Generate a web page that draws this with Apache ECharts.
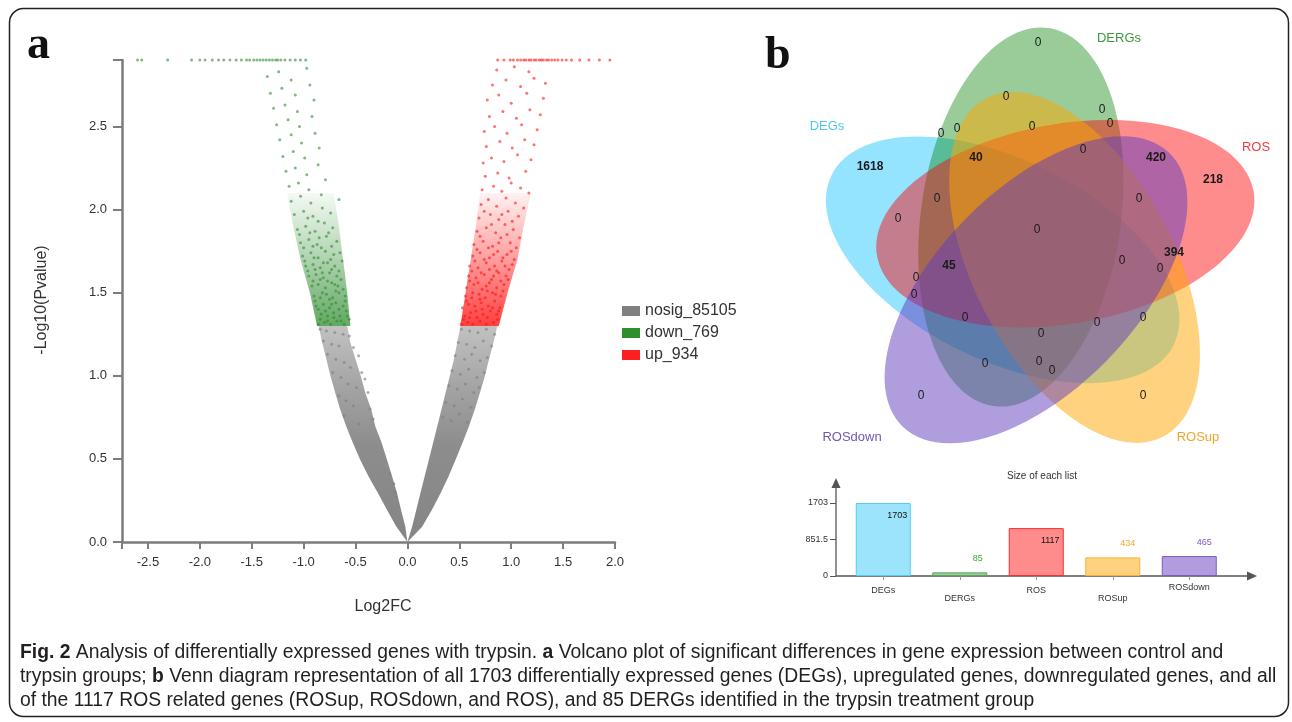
<!DOCTYPE html>
<html><head><meta charset="utf-8">
<script src="https://cdn.jsdelivr.net/npm/echarts@6/dist/echarts.min.js"></script>
<style>html,body{margin:0;padding:0;background:#fff}#c{width:1292px;height:722px}</style>
</head><body><div id="c"></div>
<script>
// ---------------- DATA ----------------
const pCap = 2.9;
const volcanoXTicks = [-2.75,-2.5,-2.0,-1.5,-1.0,-0.5,0,0.5,1.0,1.5,2.0];
const volcanoXLabels = [-2.5,-2.0,-1.5,-1.0,-0.5,0,0.5,1.0,1.5,2.0];
const volcanoYTicks = [0,0.5,1.0,1.5,2.0,2.5,2.9];
const volcanoYLabels = [0,0.5,1.0,1.5,2.0,2.5];
const legendNames = ['nosig_85105','down_769','up_934'];

const upPoints = [[0.52,1.31],[0.58,1.32],[0.63,1.31],[0.70,1.33],[0.76,1.31],[0.83,1.32],[0.87,1.34],[0.55,1.36],[0.61,1.38],[0.67,1.35],[0.73,1.37],[0.80,1.39],[0.86,1.37],[0.53,1.41],[0.59,1.43],[0.65,1.42],[0.71,1.44],[0.78,1.42],[0.84,1.45],[0.89,1.41],[0.56,1.48],[0.62,1.47],[0.69,1.49],[0.75,1.47],[0.82,1.50],[0.90,1.48],[0.57,1.53],[0.64,1.55],[0.72,1.52],[0.79,1.56],[0.86,1.53],[0.93,1.55],[0.59,1.60],[0.66,1.59],[0.74,1.61],[0.81,1.58],[0.88,1.62],[0.95,1.60],[0.60,1.66],[0.68,1.65],[0.76,1.68],[0.84,1.66],[0.91,1.69],[0.98,1.64],[0.63,1.72],[0.70,1.74],[0.79,1.71],[0.87,1.75],[0.96,1.73],[1.03,1.70],
[0.54,1.34],[0.60,1.35],[0.66,1.39],[0.72,1.40],[0.77,1.35],[0.82,1.41],[0.88,1.39],[0.57,1.45],[0.63,1.50],[0.70,1.46],[0.77,1.51],[0.85,1.49],[0.92,1.51],[0.60,1.57],[0.68,1.56],[0.76,1.54],[0.83,1.60],[0.90,1.57],[0.97,1.58],[0.62,1.63],[0.71,1.62],[0.79,1.64],[0.86,1.63],[0.94,1.66],[1.01,1.67],[0.65,1.69],[0.74,1.70],[0.83,1.73],[0.92,1.71],[1.00,1.75],[0.67,1.76],[0.78,1.77],[0.88,1.80],[0.96,1.85],[1.08,1.83],[0.70,1.84],[0.81,1.91],[0.91,1.97],[1.01,1.93],[0.74,1.99],
[0.64,1.79],[0.73,1.81],[0.82,1.78],[0.90,1.83],[0.99,1.80],[1.05,1.77],[0.67,1.87],[0.76,1.89],[0.85,1.86],[0.94,1.91],[1.02,1.88],[0.69,1.95],[0.80,1.97],[0.88,1.94],[0.97,1.99],[1.07,1.96],[0.71,2.03],[0.78,2.06],[0.86,2.02],[0.95,2.07],[1.04,2.04],[1.12,2.01],[0.72,2.12],[0.83,2.14],[0.91,2.11],[1.00,2.16],[1.09,2.13],[1.17,2.10],[0.75,2.20],[0.87,2.22],[0.98,2.19],[1.14,2.23],
[0.73,2.28],[0.81,2.31],[0.93,2.29],[1.06,2.33],[1.19,2.30],[0.76,2.38],[0.89,2.41],[1.01,2.37],[1.13,2.42],[1.22,2.39],[0.74,2.47],[0.84,2.50],[0.96,2.46],[1.10,2.51],[1.25,2.48],[0.79,2.56],[0.92,2.59],[1.05,2.55],[1.18,2.60],[1.28,2.57],[0.77,2.66],[0.88,2.69],[1.00,2.64],[1.15,2.70],[1.31,2.67],[0.82,2.75],[0.95,2.78],[1.09,2.74],[1.22,2.79],[1.33,2.76],[0.86,2.84],[1.03,2.86],[1.17,2.83]];
const upCapX = [0.87,0.93,0.99,1.02,1.06,1.09,1.12,1.14,1.17,1.19,1.22,1.24,1.27,1.29,1.31,1.34,1.36,1.39,1.42,1.45,1.49,1.53,1.58,1.66,1.75,1.85,1.95,2.03];

const downPoints = [[-0.86,1.31],[-0.80,1.32],[-0.74,1.31],[-0.68,1.33],[-0.61,1.31],[-0.56,1.34],[-0.83,1.37],[-0.77,1.36],[-0.71,1.38],[-0.65,1.36],[-0.59,1.39],[-0.88,1.42],[-0.81,1.43],[-0.75,1.41],[-0.69,1.44],[-0.62,1.42],[-0.90,1.48],[-0.84,1.47],[-0.78,1.49],[-0.72,1.47],[-0.66,1.50],[-0.60,1.48],[-0.92,1.54],[-0.86,1.55],[-0.79,1.53],[-0.73,1.56],[-0.67,1.54],[-0.95,1.60],[-0.88,1.61],[-0.81,1.59],[-0.75,1.62],[-0.68,1.60],[-0.98,1.66],[-0.91,1.67],[-0.84,1.65],[-0.77,1.68],[-0.70,1.66],[-0.63,1.69],[-1.01,1.72],[-0.93,1.74],[-0.86,1.71],[-0.79,1.75],[-0.71,1.73],
[-0.84,1.34],[-0.77,1.33],[-0.71,1.35],[-0.64,1.33],[-0.58,1.36],[-0.86,1.40],[-0.79,1.39],[-0.73,1.43],[-0.66,1.40],[-0.60,1.45],[-0.89,1.45],[-0.82,1.50],[-0.75,1.46],[-0.69,1.51],[-0.62,1.52],[-0.91,1.57],[-0.84,1.58],[-0.77,1.57],[-0.70,1.55],[-0.64,1.58],[-0.96,1.63],[-0.89,1.64],[-0.82,1.62],[-0.73,1.64],[-0.66,1.63],[-0.99,1.69],[-0.90,1.71],[-0.81,1.68],[-0.74,1.70],[-0.65,1.74],[-1.00,1.77],[-0.91,1.78],[-0.83,1.77],[-0.73,1.78],[-1.04,1.85],[-0.94,1.86],[-0.85,1.83],[-0.76,1.86],[-0.86,1.93],[-0.96,1.95],
[-1.03,1.80],[-0.95,1.82],[-0.87,1.79],[-0.78,1.84],[-0.68,1.81],[-1.06,1.88],[-0.98,1.90],[-0.89,1.87],[-0.80,1.92],[-0.72,1.89],[-1.09,1.97],[-1.00,1.99],[-0.91,1.96],[-0.82,2.01],[-0.74,1.98],[-1.12,2.05],[-1.03,2.08],[-0.93,2.04],[-0.83,2.09],[-0.66,2.06],[-1.14,2.14],[-1.05,2.16],[-0.95,2.12],[-0.79,2.18],[-1.17,2.23],[-1.08,2.25],[-0.97,2.21],[-0.86,2.27],
[-1.20,2.32],[-1.10,2.35],[-0.99,2.31],[-0.85,2.37],[-1.23,2.42],[-1.12,2.45],[-1.02,2.40],[-0.89,2.46],[-1.26,2.51],[-1.15,2.54],[-1.04,2.50],[-0.92,2.56],[-1.29,2.61],[-1.18,2.63],[-1.06,2.59],[-0.90,2.66],[-1.32,2.70],[-1.21,2.73],[-1.08,2.69],[-0.94,2.75],[-1.35,2.80],[-1.24,2.83],[-1.12,2.78],[-0.97,2.85]];
const downCapX = [-2.60,-2.56,-2.31,-2.08,-2.00,-1.95,-1.88,-1.82,-1.77,-1.71,-1.65,-1.60,-1.55,-1.52,-1.48,-1.45,-1.42,-1.39,-1.36,-1.33,-1.30,-1.27,-1.25,-1.22,-1.18,-1.13,-1.08,-1.03,-0.98];

const nosigPoints = [[-0.84,1.28],[-0.78,1.27],[-0.70,1.26],[-0.62,1.25],[-0.56,1.24],[-0.81,1.21],[-0.73,1.19],[-0.66,1.18],[-0.52,1.17],[-0.47,1.12],[-0.77,1.13],[-0.69,1.10],[-0.61,1.08],[-0.55,1.05],[-0.44,1.02],[-0.41,0.98],[-0.72,1.02],[-0.64,0.99],[-0.57,0.95],[-0.49,0.93],[-0.38,0.90],[-0.66,0.88],[-0.59,0.85],[-0.52,0.82],[-0.36,0.80],[-0.33,0.74],[-0.61,0.76],[-0.47,0.71],[-0.13,0.35],[-0.12,0.30],[-0.11,0.27],[-0.17,0.41],
[0.52,1.28],[0.60,1.27],[0.68,1.26],[0.76,1.28],[0.84,1.25],[0.49,1.20],[0.57,1.19],[0.65,1.17],[0.73,1.21],[0.81,1.18],[0.46,1.12],[0.55,1.10],[0.62,1.13],[0.70,1.09],[0.77,1.11],[0.43,1.03],[0.51,1.01],[0.59,1.04],[0.67,0.99],[0.74,1.02],[0.40,0.94],[0.48,0.92],[0.56,0.95],[0.64,0.90],[0.69,0.93],[0.37,0.84],[0.45,0.82],[0.53,0.86],[0.61,0.81],[0.34,0.75],[0.42,0.73],[0.50,0.77],[0.58,0.72]];

// outlines of the dense parts of each cloud
const nosigLeftEnvelope = [[0,0],[-0.106,0.092],[-0.196,0.193],[-0.283,0.293],[-0.373,0.393],[-0.454,0.494],[-0.524,0.594],[-0.589,0.695],[-0.647,0.795],[-0.695,0.896],[-0.74,0.996],[-0.78,1.096],[-0.82,1.197],[-0.856,1.30],[-0.58,1.30],[-0.55,1.2],[-0.5,1.1],[-0.45,1.0],[-0.405,0.896],[-0.35,0.8],[-0.309,0.695],[-0.25,0.6],[-0.196,0.494],[-0.15,0.4],[-0.10,0.293],[-0.06,0.19],[-0.02,0.092]];
const nosigRightEnvelope = [[0,0],[0.142,0.092],[0.235,0.193],[0.319,0.293],[0.395,0.393],[0.463,0.494],[0.53,0.595],[0.592,0.695],[0.648,0.795],[0.698,0.896],[0.745,0.996],[0.785,1.096],[0.828,1.197],[0.866,1.30],[0.512,1.30],[0.48,1.2],[0.447,1.096],[0.407,0.996],[0.367,0.896],[0.327,0.795],[0.287,0.695],[0.247,0.595],[0.206,0.494],[0.165,0.393],[0.125,0.293],[0.085,0.193],[0.045,0.092]];
const upEnvelope = [[0.51,1.30],[0.56,1.5],[0.61,1.7],[0.66,1.9],[0.70,2.1],[1.19,2.1],[1.12,1.9],[1.06,1.7],[0.965,1.5],[0.88,1.30]];
const downEnvelope = [[-0.87,1.30],[-0.94,1.5],[-1.03,1.7],[-1.10,1.9],[-1.16,2.1],[-0.71,2.1],[-0.66,1.9],[-0.62,1.7],[-0.58,1.5],[-0.55,1.30]];

const vennSets = ['DEGs','DERGs','ROS','ROSup','ROSdown'];
const vennRegionValues = ['1618','40','420','218','394','45','0','0','0','0','0','0','0','0','0','0','0','0','0','0','0','0','0','0','0','0','0','0','0','0','0'];
const listSizes = [1703, 85, 1117, 434, 465];
const sizeTicks = [0, 851.5, 1703];
const sizeTitle = 'Size of each list';

// ---------------- LAYOUT / STYLE ----------------
const C_GRAY = '#808080', C_GREEN = '#2f8f2f', C_RED = '#ff1f1f';
const vennEllipses = [
  {cx:1002.8, cy:259.9, ang:26.3,  fill:'rgba(0,191,255,0.42)', label:[827,126], lc:'#4fc6f0'},
  {cx:1021.0, cy:217.0, ang:98.3,  fill:'rgba(0,128,0,0.40)',   label:[1119,38], lc:'#3c9a3c'},
  {cx:1065.4, cy:223.8, ang:170.3, fill:'rgba(255,0,0,0.45)',   label:[1256,147], lc:'#f03c3c'},
  {cx:1074.7, cy:267.5, ang:242.3, fill:'rgba(255,165,0,0.50)', label:[1198,437], lc:'#f6a42a'},
  {cx:1036.0, cy:289.8, ang:314.3, fill:'rgba(95,60,190,0.50)', label:[852,437], lc:'#7356b4'}
];
const vennRegionPos = [[870,167],[976,158],[1156,158],[1213,180],[1174,253],[949,266],
  [1038,43],[1006,97],[1102,110],[1110,124],[941,134],[957,129],[1032,127],[1083,150],[1139,199],[937,199],[898,219],[1037,230],
  [1122,261],[1160,269],[916,278],[914,295],[965,318],[1097,323],[1143,318],[1041,334],[985,364],[1039,362],[1052,371],[921,396],[1143,396]];
const barFill = ['#9be4fb','#9dcc9d','#ff8c8c','#fed27e','#b19cdd'];
const barBorder = ['#55cdf3','#5aa55a','#ff2a2a','#ffb02e','#7a5bc4'];
const barLabelColor = ['#111','#3aa63a','#111','#f5a623','#7a5bc0'];
const barLabelInside = [true,false,true,false,false];
const barLabelDx = [14,18,14,15,15];
const catLineHeight = [12,28,12,28,6];

function envelope(name, polys, stops) {
  return {
    type:'custom', name:name, xAxisIndex:0, yAxisIndex:0, silent:true, z:1, clip:true,
    data: polys.map((p,i)=>[i]),
    renderItem:(params, api)=>({
      type:'polygon',
      shape:{points: polys[params.dataIndex].map(p=>api.coord(p))},
      style:{fill:{type:'linear',x:0,y:0,x2:0,y2:1,colorStops:stops}, stroke:null}
    })
  };
}

const graphics = [];
graphics.push({type:'rect', shape:{x:9.5,y:8.5,width:1279,height:708,r:14}, style:{fill:'none',stroke:'#222',lineWidth:1.5}, z:100});
graphics.push({type:'text', x:27, y:46, style:{text:'a', font:'bold 46px "Liberation Serif"', fill:'#111', verticalAlign:'middle'}});
graphics.push({type:'text', x:765, y:56, style:{text:'b', font:'bold 46px "Liberation Serif"', fill:'#111', verticalAlign:'middle'}});
graphics.push({type:'text', x:42, y:300, rotation:Math.PI/2, style:{text:'-Log10(Pvalue)', font:'16px "Liberation Sans"', fill:'#333', align:'center', verticalAlign:'middle'}});
graphics.push({type:'text', x:383, y:607, style:{text:'Log2FC', font:'16px "Liberation Sans"', fill:'#333', align:'center', verticalAlign:'middle'}});
vennEllipses.forEach((e,i)=>{
  graphics.push({type:'ellipse', x:e.cx, y:e.cy, rotation:-e.ang*Math.PI/180, shape:{cx:0,cy:0,rx:191,ry:100}, style:{fill:e.fill, stroke:null}, z:i});
});
vennEllipses.forEach((e,i)=>{
  graphics.push({type:'text', x:e.label[0], y:e.label[1], z:10, style:{text:vennSets[i], font:'13px "Liberation Sans"', fill:e.lc, align:'center', verticalAlign:'middle'}});
});
vennRegionValues.forEach((v,i)=>{
  graphics.push({type:'text', x:vennRegionPos[i][0], y:vennRegionPos[i][1], z:10, style:{text:v, font:(i<6?'bold ':'')+'12px "Liberation Sans"', fill:'#1a1a1a', align:'center', verticalAlign:'middle'}});
});
graphics.push({type:'text', x:1042, y:476, style:{text:sizeTitle, font:'10px "Liberation Sans"', fill:'#333', align:'center', verticalAlign:'middle'}});
graphics.push({type:'line', shape:{x1:836,y1:576,x2:1250,y2:576}, style:{stroke:'#555',lineWidth:1.3}});
graphics.push({type:'polygon', shape:{points:[[1257,576],[1247,571.5],[1247,580.5]]}, style:{fill:'#555'}});
graphics.push({type:'line', shape:{x1:836,y1:576,x2:836,y2:485}, style:{stroke:'#555',lineWidth:1.3}});
graphics.push({type:'polygon', shape:{points:[[836,478],[831.5,488],[840.5,488]]}, style:{fill:'#555'}});
// caption
const capLines = [
  '{b|Fig. 2} Analysis of differentially expressed genes with trypsin. {b|a} Volcano plot of significant differences in gene expression between control and',
  'trypsin groups; {b|b} Venn diagram representation of all 1703 differentially expressed genes (DEGs), upregulated genes, downregulated genes, and all',
  'of the 1117 ROS related genes (ROSup, ROSdown, and ROS), and 85 DERGs identified in the trypsin treatment group'
];
capLines.forEach((t,i)=>{
  graphics.push({type:'text', x:20, y:652+24*i, scaleX:0.966, style:{text:t, fontFamily:'Liberation Sans', fontSize:20, fill:'#231f20', verticalAlign:'middle',
    rich:{b:{fontFamily:'Liberation Sans', fontSize:20, fontWeight:'bold', fill:'#231f20'}}}});
});

const chart = echarts.init(document.getElementById('c'), null, {renderer:'canvas'});
const axisGray = '#7c7c7c';
chart.setOption({
  animation:false,
  backgroundColor:'#fff',
  textStyle:{fontFamily:'Liberation Sans'},
  grid:[
    {left:122, top:60, width:493, height:482},
    {left:845, top:503, width:382.5, height:73}
  ],
  legend:{
    orient:'vertical', left:617, top:298, itemWidth:18, itemHeight:10, itemGap:6, icon:'rect', selectedMode:false,
    textStyle:{fontSize:16, color:'#333', fontFamily:'Liberation Sans'},
    data:[{name:legendNames[0], itemStyle:{color:C_GRAY, opacity:1}},{name:legendNames[1], itemStyle:{color:C_GREEN, opacity:1}},{name:legendNames[2], itemStyle:{color:C_RED, opacity:1}}]
  },
  xAxis:[
    {type:'value', gridIndex:0, min:-2.75, max:2.0,
      axisLine:{show:true, onZero:false, lineStyle:{color:axisGray, width:2.5}},
      axisTick:{show:true, length:7, customValues:volcanoXTicks, lineStyle:{color:axisGray, width:2}},
      axisLabel:{customValues:volcanoXLabels, formatter:v=>Number(v).toFixed(1), fontSize:13, color:'#333', margin:14},
      splitLine:{show:false}},
    {type:'category', gridIndex:1, data:vennSets.map((s,i)=>({value:s, textStyle:{lineHeight:catLineHeight[i]}})),
      axisLine:{show:false}, axisTick:{show:true, alignWithLabel:true, length:4, lineStyle:{color:'#999'}},
      axisLabel:{fontSize:9, color:'#333', margin:9, lineHeight:12, interval:0}}
  ],
  yAxis:[
    {type:'value', gridIndex:0, min:0, max:pCap,
      axisLine:{show:true, onZero:false, lineStyle:{color:axisGray, width:2.5}},
      axisTick:{show:true, length:9, customValues:volcanoYTicks, lineStyle:{color:axisGray, width:2}},
      axisLabel:{customValues:volcanoYLabels, formatter:v=>Number(v).toFixed(1), fontSize:13, color:'#333', margin:15},
      splitLine:{show:false}},
    {type:'value', gridIndex:1, min:0, max:1703, offset:9,
      axisLine:{show:false}, axisTick:{show:true, length:6, customValues:sizeTicks, lineStyle:{color:'#555'}},
      axisLabel:{customValues:sizeTicks, formatter:v=>String(v), fontSize:9, color:'#333', margin:8},
      splitLine:{show:false}}
  ],
  graphic:{elements:graphics},
  series:[
    envelope(legendNames[0], [nosigLeftEnvelope, nosigRightEnvelope], [{offset:0,color:'#c2c2c2'},{offset:0.3,color:'#a2a2a2'},{offset:0.55,color:'#8d8d8d'},{offset:1,color:'#858585'}]),
    envelope(legendNames[1], [downEnvelope], [{offset:0,color:'rgba(46,139,46,0.05)'},{offset:0.45,color:'rgba(46,139,46,0.35)'},{offset:1,color:'rgba(46,139,46,0.75)'}]),
    envelope(legendNames[2], [upEnvelope], [{offset:0,color:'rgba(255,0,0,0.05)'},{offset:0.45,color:'rgba(255,0,0,0.35)'},{offset:1,color:'rgba(255,0,0,0.75)'}]),
    {type:'scatter', name:legendNames[0], xAxisIndex:0, yAxisIndex:0, symbolSize:3, z:2, silent:true,
      itemStyle:{color:'rgba(128,128,128,0.8)'}, data:nosigPoints},
    {type:'scatter', name:legendNames[1], xAxisIndex:0, yAxisIndex:0, symbolSize:3, z:2, silent:true,
      itemStyle:{color:'rgba(46,139,46,0.75)'}, data:downPoints.concat(downCapX.map(x=>[x,pCap]))},
    {type:'scatter', name:legendNames[2], xAxisIndex:0, yAxisIndex:0, symbolSize:3, z:2, silent:true,
      itemStyle:{color:'rgba(255,20,20,0.75)'}, data:upPoints.concat(upCapX.map(x=>[x,pCap]))},
    {type:'bar', xAxisIndex:1, yAxisIndex:1, barWidth:55, silent:true,
      data:listSizes.map((v,i)=>({value:v,
        itemStyle:{color:barFill[i], borderColor:barBorder[i], borderWidth:1},
        label:{show:true, position:barLabelInside[i]?'insideTop':'top', offset:[barLabelDx[i], barLabelInside[i]?3:-4], fontSize:9, color:barLabelColor[i]}}))}
  ]
});
</script></body></html>
